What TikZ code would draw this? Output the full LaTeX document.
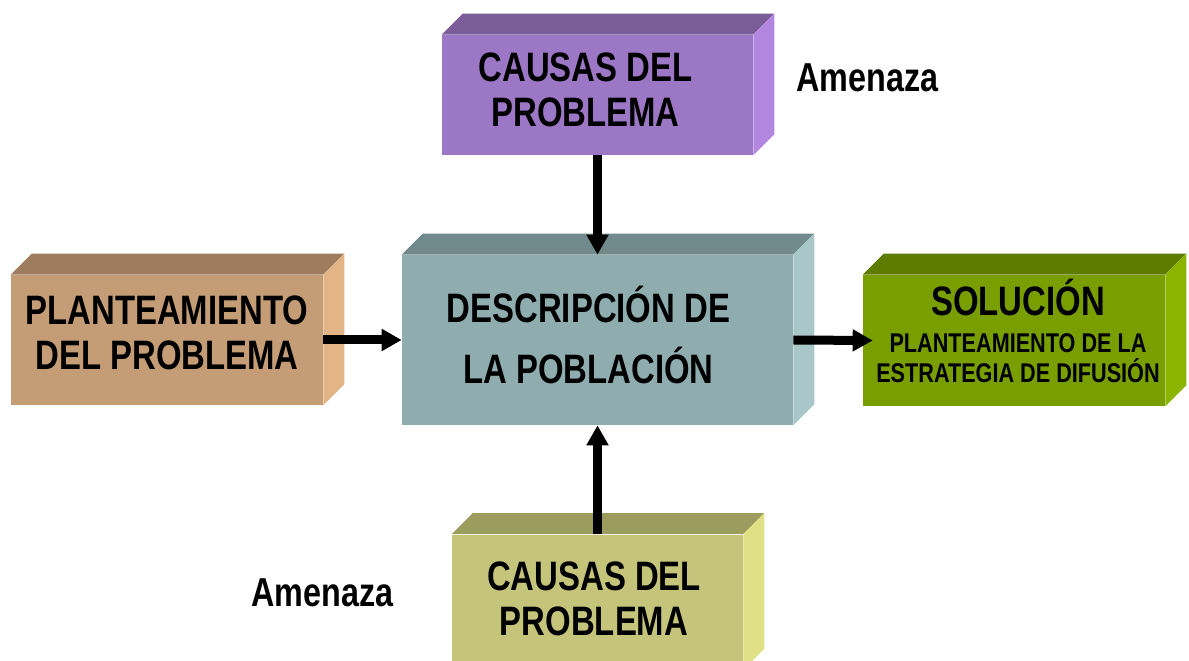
\documentclass[tikz,border=0pt]{standalone}
\usepackage{fontspec}
\setmainfont[FakeStretch=0.8]{Liberation Sans}
\usepackage{xcolor}
\usepackage{tikz}
\usetikzlibrary{calc,arrows.meta}
\definecolor{lilaF}{HTML}{9C77C5}
\definecolor{lilaT}{HTML}{7B5D9A}
\definecolor{lilaS}{HTML}{B287E0}
\definecolor{tanF}{HTML}{C49C76}
\definecolor{tanT}{HTML}{9E7D5E}
\definecolor{tanS}{HTML}{E2B486}
\definecolor{azulF}{HTML}{8FADAF}
\definecolor{azulT}{HTML}{718A8B}
\definecolor{azulS}{HTML}{A9C7C9}
\definecolor{verdeF}{HTML}{789E00}
\definecolor{verdeT}{HTML}{5E7C00}
\definecolor{verdeS}{HTML}{8BB400}
\definecolor{olivaF}{HTML}{C4C47A}
\definecolor{olivaT}{HTML}{9D9C5F}
\definecolor{olivaS}{HTML}{E0E086}
\tikzset{
  caja/.style={inner sep=0pt},
  texto/.style={inner sep=0pt, align=center, font=\bfseries\fontsize{23.4}{25.6}\selectfont},
  flecha/.style={draw=black, line width=0.18cm, -{Triangle[width=0.42cm,length=0.4cm]}},
  etiq/.style={inner sep=0pt, font=\bfseries\fontsize{23}{25.6}\selectfont},
}
\newcommand\chico{\fontsize{15.4}{17}\selectfont}
% top and side faces of a box (node, top colour, side colour)
\newcommand\caras[3]{%
  \fill[#2] (#1.north west) -- ++(21,-21) -- ($(#1.north east)+(21,-21)$) -- (#1.north east) -- cycle;
  \fill[#3] (#1.north east) -- ++(21,-21) -- ($(#1.south east)+(21,-21)$) -- (#1.south east) -- cycle;}

\begin{document}
\begin{tikzpicture}[x=0.02cm,y=-0.02cm]
  \useasboundingbox (0,0) rectangle (1189,661);
  \clip (0,0) rectangle (1189,661);
  % boxes
  \node[caja, fill=lilaF, minimum width=6.22cm, minimum height=2.4cm] (causas) at (597.5,95) {};
  \caras{causas}{lilaT}{lilaS}
  \node[caja, fill=tanF, minimum width=6.24cm, minimum height=2.6cm] (plant) at (167,340) {};
  \caras{plant}{tanT}{tanS}
  \node[caja, fill=azulF, minimum width=7.82cm, minimum height=3.4cm] (desc) at (597.5,340) {};
  \caras{desc}{azulT}{azulS}
  \node[caja, fill=verdeF, minimum width=6.04cm, minimum height=2.62cm] (sol) at (1014,340.5) {};
  \caras{sol}{verdeT}{verdeS}
  \node[caja, fill=olivaF, minimum width=5.82cm, minimum height=2.7cm] (causas2) at (597.5,602) {};
  \caras{causas2}{olivaT}{olivaS}
  % texts
  \node[texto] (t1) at (585.5,89.5) {CAUSAS DEL\\PROBLEMA};
  \node[texto] (t2) at (167,332.5) {PLANTEAMIENTO\\DEL PROBLEMA};
  \node[texto] (t3) at (588.5,335) {DESCRIPCIÓN DE\\[9pt]LA POBLACIÓN};
  \node[texto] (t4) at (1018,331) {SOLUCIÓN\\[-4.6pt]{\chico PLANTEAMIENTO DE LA}\\[-8.6pt]{\chico ESTRATEGIA DE DIFUSIÓN}};
  \node[texto] (t5) at (594,598.5) {CAUSAS DEL\\PROBLEMA};
  % labels
  \node[etiq] (am1) at (867.5,77.5) {Amenaza};
  \node[etiq] (am2) at (322.5,592.5) {Amenaza};
  % arrows
  \draw[flecha] (causas.south) -- (desc.north);
  \draw[flecha] (causas2.north) -- (desc.south);
  \draw[flecha] (plant.east) -- (desc.west);
  \draw[flecha] (desc.east) -- ([xshift=0.2cm]sol.west);
\end{tikzpicture}
\end{document}
